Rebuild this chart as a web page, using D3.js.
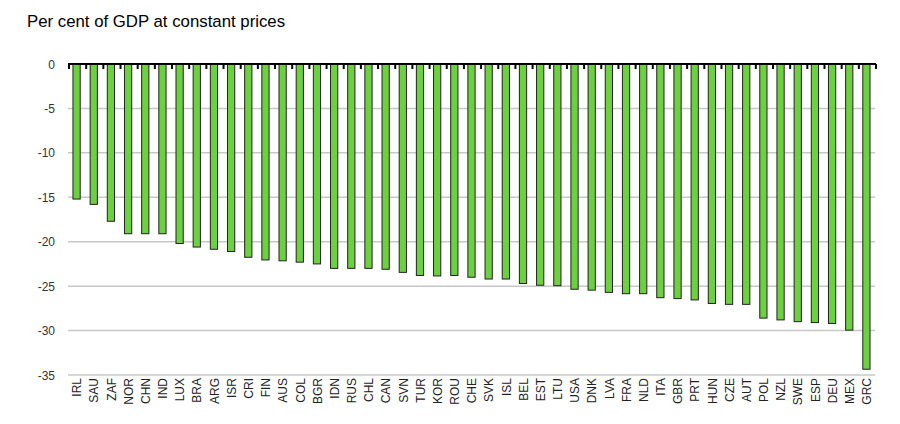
<!DOCTYPE html>
<html>
<head>
<meta charset="utf-8">
<script src="https://cdn.jsdelivr.net/npm/d3@7"></script>
<style>
  html, body { margin: 0; padding: 0; background: #fff; }
  svg { display: block; font-family: "Liberation Sans", Arial, sans-serif; }
</style>
</head>
<body>
<svg id="chart" width="900" height="424"></svg>
<script>
const categories = ["IRL","SAU","ZAF","NOR","CHN","IND","LUX","BRA","ARG","ISR","CRI","FIN","AUS","COL","BGR","IDN","RUS","CHL","CAN","SVN","TUR","KOR","ROU","CHE","SVK","ISL","BEL","EST","LTU","USA","DNK","LVA","FRA","NLD","ITA","GBR","PRT","HUN","CZE","AUT","POL","NZL","SWE","ESP","DEU","MEX","GRC"];
const values = [-15.2,-15.8,-17.7,-19.1,-19.1,-19.1,-20.2,-20.6,-20.85,-21.1,-21.75,-22.05,-22.15,-22.3,-22.5,-23.0,-23.0,-23.0,-23.1,-23.45,-23.8,-23.85,-23.8,-24.0,-24.2,-24.2,-24.7,-24.9,-24.95,-25.35,-25.45,-25.7,-25.85,-25.85,-26.3,-26.4,-26.55,-26.95,-27.05,-27.05,-28.6,-28.8,-29.0,-29.1,-29.2,-29.95,-34.35];
const yTicks = [0,-5,-10,-15,-20,-25,-30,-35];
const title = "Per cent of GDP at constant prices";

const svg = d3.select("#chart");
const pLeft = 68, pRight = 875, pTop = 64, pBottom = 375;

const x = d3.scaleBand().domain(categories).range([pLeft, pRight]).paddingInner(0.52).paddingOuter(0.26);
const xb = d3.scaleBand().domain(categories).range([pLeft, pRight]);
const y = d3.scaleLinear().domain([0, -35]).range([pTop, pBottom]);

svg.append("text")
  .attr("x", 27).attr("y", 27)
  .attr("font-size", 16.8).attr("fill", "#000")
  .text(title);

// gridlines
svg.append("g").selectAll("line").data(yTicks.filter(d => d !== 0)).join("line")
  .attr("x1", pLeft).attr("x2", pRight)
  .attr("y1", d => y(d)).attr("y2", d => y(d))
  .attr("stroke", "#c8c8c8").attr("stroke-width", 1.5);

// y labels
svg.append("g").selectAll("text").data(yTicks).join("text")
  .attr("x", 55).attr("y", d => y(d) + 4.5)
  .attr("text-anchor", "end").attr("font-size", 12).attr("fill", "#333")
  .text(d => d);

// bars
svg.append("g").selectAll("rect").data(values).join("rect")
  .attr("x", (d, i) => x(categories[i]) + 0.5)
  .attr("y", d => y(0))
  .attr("width", x.bandwidth() - 1)
  .attr("height", d => y(d) - y(0))
  .attr("fill", "#6cd040").attr("stroke", "#222").attr("stroke-width", 1);

// x axis line
svg.append("line").attr("x1", pLeft).attr("x2", pRight + 1)
  .attr("y1", pTop).attr("y2", pTop).attr("stroke", "#000").attr("stroke-width", 2);

// category boundary ticks
const bounds = categories.map(c => xb(c)).concat([pRight]);
svg.append("g").selectAll("line").data(bounds).join("line")
  .attr("x1", d => d + 1).attr("x2", d => d + 1)
  .attr("y1", pTop).attr("y2", pTop + 5)
  .attr("stroke", "#000").attr("stroke-width", 2);

// x labels
svg.append("g").selectAll("text").data(categories).join("text")
  .attr("transform", d => `translate(${xb(d) + xb.bandwidth() / 2 + 0.5},378) rotate(-90)`)
  .attr("dy", "0.35em")
  .attr("text-anchor", "end").attr("font-size", 12).attr("fill", "#222")
  .text(d => d);
</script>
</body>
</html>
